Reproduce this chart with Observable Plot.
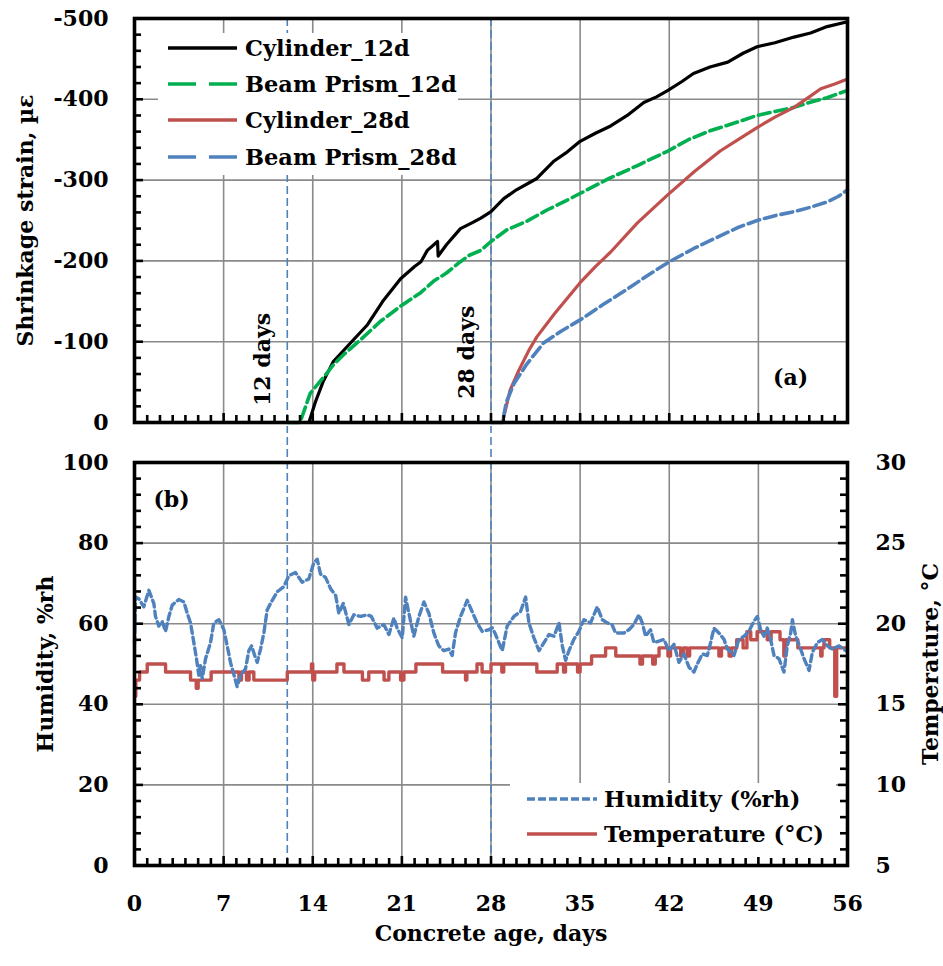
<!DOCTYPE html>
<html>
<head>
<meta charset="utf-8">
<script src="https://cdn.jsdelivr.net/npm/d3@7"></script>
<script src="https://cdn.jsdelivr.net/npm/@observablehq/plot@0.6"></script>
<style>
  html, body { margin: 0; padding: 0; background: #fff; }
  #wrap { position: relative; width: 943px; height: 966px; overflow: hidden; }
  #wrap > svg { position: absolute; left: 0; }
  .leg { position: absolute; }
</style>
</head>
<body>
<div id="wrap"></div>
<script>
// ---------------- DATA ----------------
// Panel (a): shrinkage strain (µε) vs concrete age (days)
const cyl12Days   = [12, 13.7, 14.2, 14.8, 15.6, 16.0, 17.0, 18.3, 19.5, 20.9, 22.0, 22.5, 23.0, 23.8, 23.85, 24.5, 25.6, 26.5, 27.2, 28.0, 29.0, 30.0, 31.6, 32.9, 34.0, 35.0, 36.2, 37.4, 38.7, 40.0, 41.0, 41.9, 43.0, 43.9, 45.2, 46.6, 47.8, 48.9, 50.3, 51.8, 53.1, 54.4, 56];
const cyl12Strain = [0, 0, -25, -50, -75, -82, -99, -121, -150, -178, -193, -199, -213, -224, -206, -220, -240, -247, -253, -261, -277, -288, -302, -323, -335, -348, -358, -367, -380, -396, -403, -411, -422, -432, -440, -446, -457, -465, -470, -477, -482, -490, -496];

const beam12Days   = [12, 13.0, 13.8, 14.9, 15.6, 16.5, 17.8, 19.3, 20.9, 22.5, 23.5, 24.5, 25.6, 26.3, 27.2, 28.0, 29.2, 30.8, 32.4, 34.2, 35.8, 37.4, 39.5, 41.9, 43.5, 45.2, 47.0, 48.9, 50.3, 51.8, 53.0, 54.4, 56];
const beam12Strain = [0, 0, -36, -57, -71, -85, -103, -125, -144, -161, -175, -185, -199, -207, -213, -224, -238, -249, -263, -277, -290, -303, -318, -336, -350, -361, -370, -380, -385, -390, -396, -402, -411];

const cyl28Days   = [28, 28.9, 29.2, 29.5, 30.2, 31.0, 31.6, 33.0, 35.0, 36.2, 37.4, 39.5, 41.9, 44.0, 46.0, 47.5, 48.9, 50.3, 51.8, 53.0, 53.9, 55.0, 56];
const cyl28Strain = [0, 0, -20, -40, -65, -90, -106, -135, -173, -193, -211, -247, -282, -311, -336, -351, -365, -378, -390, -403, -413, -419, -425];

const beam28Days   = [28, 28.9, 29.2, 29.8, 30.8, 32.1, 33.5, 35.0, 36.8, 38.7, 40.3, 41.9, 44.0, 46.0, 47.5, 48.9, 50.3, 51.8, 53.0, 54.4, 55.3, 56];
const beam28Strain = [0, 0, -25, -48, -72, -98, -113, -127, -146, -165, -182, -198, -216, -231, -242, -250, -256, -261, -266, -273, -280, -288];

const seriesNames = ["Cylinder_12d", "Beam Prism_12d", "Cylinder_28d", "Beam Prism_28d"];

// Panel (b): relative humidity (%rh)
const humDays = [0.0, 0.08, 0.34, 0.73, 1.13, 1.52, 1.65, 1.91, 2.17, 2.44, 2.7, 2.96, 3.48, 3.88, 4.14, 4.4, 4.66, 4.87, 5.05, 5.18, 5.32, 5.58, 5.97, 6.23, 6.63, 7.02, 7.28, 7.54, 8.06, 8.33, 8.72, 8.98, 9.2, 9.45, 9.64, 9.9, 10.16, 10.42, 10.68, 11.2, 11.73, 12.12, 12.64, 13.17, 13.69, 14.08, 14.35, 14.61, 15.0, 15.4, 15.8, 16.05, 16.4, 16.84, 17.23, 17.76, 18.28, 18.6, 19.06, 19.58, 19.98, 20.37, 20.63, 21.03, 21.29, 21.55, 21.94, 22.34, 22.73, 23.12, 23.51, 23.9, 24.3, 24.69, 24.95, 25.21, 25.61, 26.13, 26.52, 26.91, 27.31, 27.83, 28.1, 28.36, 28.88, 29.27, 29.8, 30.32, 30.72, 30.98, 31.37, 31.77, 32.16, 32.55, 32.95, 33.34, 33.6, 33.86, 34.12, 34.51, 34.9, 35.3, 35.82, 36.35, 36.74, 37.13, 37.5, 37.78, 38.44, 38.83, 39.22, 39.62, 39.88, 40.14, 40.53, 40.8, 41.19, 41.58, 41.97, 42.37, 42.76, 43.15, 43.55, 43.94, 44.2, 44.6, 44.99, 45.25, 45.51, 45.9, 46.3, 46.56, 46.9, 47.08, 47.47, 47.87, 48.26, 48.65, 48.92, 49.18, 49.44, 49.7, 49.96, 50.23, 50.62, 51.01, 51.27, 51.54, 51.67, 51.93, 52.32, 52.59, 52.98, 53.24, 53.63, 54.03, 54.42, 54.81, 55.34, 55.86, 56];
const humVals = [55, 66.6, 66.2, 64.2, 68.3, 65, 61.8, 59.4, 60.6, 58.1, 61.8, 64.6, 66, 65.4, 62.6, 60.2, 55.3, 51.3, 47.2, 49.6, 46.4, 51.3, 55.3, 60.2, 61, 58.5, 54.5, 50.4, 44.4, 47.2, 48.8, 53.3, 54.5, 52.0, 50.4, 53.7, 57.7, 63.4, 65, 67.9, 69.2, 71.9, 72.7, 70.3, 71.1, 75.1, 76, 72.3, 71.5, 68.7, 67, 62.6, 65, 59.8, 62.2, 61.8, 62.2, 61.8, 58.9, 59.8, 57.3, 61.4, 58.9, 56.5, 66.6, 62.6, 56.9, 61.8, 65.4, 62.6, 57.7, 54.5, 53.3, 53.7, 52.1, 57.7, 61.8, 65.8, 63, 60.2, 58.1, 58.5, 59, 57.3, 53.3, 59.4, 61.8, 63, 66.6, 60.2, 56.5, 53.3, 55.3, 57.3, 56.9, 60.2, 54.5, 50.9, 53.3, 56.1, 58.1, 61, 60.2, 64.2, 61, 60.2, 59.8, 57.7, 57.7, 58.5, 59.8, 62.2, 60.2, 56.9, 58.5, 55.3, 55.7, 56.1, 53.3, 54.9, 50.4, 52.5, 49.2, 48, 50, 52.5, 52.1, 55.3, 58.9, 57.7, 56.1, 53.7, 52.9, 52.1, 56.1, 56.9, 58.1, 60.6, 61.8, 58.5, 56.9, 58.9, 56.1, 52.1, 51.3, 48, 54.5, 57.7, 61, 56.9, 53.7, 51.3, 48.4, 52.9, 55.3, 56.1, 54.5, 53.7, 54.5, 53.3, 53.7];

// Panel (b): temperature (°C), logged as step changes
const tempDays = [0, 0.1, 0.4, 1.0, 2.44, 4.4, 4.85, 5.0, 6.02, 8.2, 8.4, 8.8, 9.0, 9.37, 12.0, 13.9, 14.0, 14.15, 15.9, 16.45, 17.9, 18.4, 19.6, 19.98, 20.9, 21.16, 22.1, 24.2, 26.0, 26.1, 26.9, 27.3, 28.0, 28.85, 29.0, 31.6, 33.2, 33.7, 33.85, 34.8, 35.0, 35.9, 37.0, 37.8, 39.7, 39.9, 40.7, 40.9, 41.2, 41.9, 42.1, 42.9, 43.1, 43.4, 43.6, 45.9, 46.1, 46.7, 46.9, 47.3, 47.8, 48.1, 48.4, 48.9, 49.7, 50.0, 50.7, 51.0, 51.15, 52.1, 53.9, 54.0, 54.15, 54.6, 55.0, 55.15, 56];
const tempVals = [15.5, 16.5, 17, 17.5, 17, 16.5, 16, 16.5, 17, 16.5, 17, 16.5, 17, 16.5, 17, 17.5, 16.5, 17, 17.5, 17, 16.5, 17, 16.5, 17, 16.5, 17, 17.5, 17, 16.5, 17, 17.5, 17, 17.5, 17, 17.5, 17, 17.5, 17, 17.5, 17, 17.5, 18, 18.5, 18, 17.5, 18, 17.5, 18, 18.5, 18, 18.5, 18, 18.5, 18, 18.5, 18, 18.5, 18, 18.5, 19, 18.5, 19.5, 19, 19.5, 19, 19.5, 19, 18, 19, 18.5, 18, 18.5, 19, 18.5, 15.5, 18.5, 18.5];

// Annotations
const markerDays = [12, 28];
const markerLabels = ["12 days", "28 days"];
const markerLabelStrain = [-78, -87];

// Ticks
const dayTicks = [0, 7, 14, 21, 28, 35, 42, 49, 56];
const strainTicks = [0, -100, -200, -300, -400, -500];
const humTicks = [0, 20, 40, 60, 80, 100];
const tempTicks = [5, 10, 15, 20, 25, 30];

// ---------------- STYLE ----------------
const FONT = "'DejaVu Serif', 'Liberation Serif', serif";
const FS = 22;
const LFS = 22.5;
const gridColor = "#8a8a8a";
const cBlack = "#000000", cGreen = "#00b050", cRed = "#c0504d", cBlue = "#4f81bd";

const W = 943;
const ML = 134, MR = 96;
const PW = W - ML - MR; // 713
const topH = 430, topMT = 18, topMB = 8;
const topPH = topH - topMT - topMB; // 404
const botH = 536, botMT = 32, botMB = 101;
const botPH = botH - botMT - botMB; // 403

const tickLen = 7, majLen = 9;

const zip = (xs, ys, kx, ky) => xs.map((x, i) => ({[kx]: x, [ky]: ys[i]}));
const cyl12 = zip(cyl12Days, cyl12Strain, "day", "strain");
const beam12 = zip(beam12Days, beam12Strain, "day", "strain");
const cyl28 = zip(cyl28Days, cyl28Strain, "day", "strain");
const beam28 = zip(beam28Days, beam28Strain, "day", "strain");
const hum = zip(humDays, humVals, "day", "rh");
const temp = zip(tempDays, tempVals, "day", "t");
const markers = markerDays.map((d, i) => ({day: d, label: markerLabels[i], strain: markerLabelStrain[i]}));

const innerDays = dayTicks.filter(d => d > 0 && d < 56);
const minorDays = d3.range(1, 56).filter(d => d % 7 !== 0);
const strainInner = strainTicks.filter(d => d !== 0 && d !== -500);
const strainMinor = d3.range(-20, -500, -20).filter(d => d % 100 !== 0);
const humInner = humTicks.filter(d => d !== 0 && d !== 100);
const humMinor = d3.range(4, 100, 4).filter(d => d % 20 !== 0);
const tempToHum = t => (t - 5) * 4;

const svgStyle = {
  fontFamily: FONT, fontSize: FS + "px", fontWeight: "bold", color: "#000",
  background: "transparent", overflow: "visible"
};
const txt = {fontSize: FS, fontWeight: "bold", fill: "#000"};

// ---------------- PANEL (a) ----------------
const topPlot = Plot.plot({
  width: W, height: topH,
  marginLeft: ML, marginRight: MR, marginTop: topMT, marginBottom: topMB,
  style: svgStyle,
  x: {domain: [0, 56], axis: null},
  y: {domain: [0, -500]},
  marks: [
    Plot.ruleX(innerDays, {x: d => d, stroke: gridColor, strokeWidth: 1.6}),
    Plot.ruleY(strainInner, {y: d => d, stroke: gridColor, strokeWidth: 1.6}),
    Plot.ruleX(markers, {x: "day", y1: -500, y2: 10, stroke: cBlue, strokeWidth: 1.6, strokeDasharray: "8,4"}),
    Plot.line(cyl12, {x: "day", y: "strain", stroke: cBlack, strokeWidth: 3.2}),
    Plot.line(beam12, {x: "day", y: "strain", stroke: cGreen, strokeWidth: 3.6, strokeDasharray: "12,5"}),
    Plot.line(cyl28, {x: "day", y: "strain", stroke: cRed, strokeWidth: 3.2}),
    Plot.line(beam28, {x: "day", y: "strain", stroke: cBlue, strokeWidth: 3.6, strokeDasharray: "12,5"}),
    Plot.text(markers, {x: "day", y: "strain", text: "label", rotate: -90, dx: -24, textAnchor: "middle", ...txt}),
    Plot.tickY(strainMinor, {y: d => d, insetRight: PW - tickLen, strokeWidth: 2.6, stroke: "#000"}),
    Plot.tickY(strainInner, {y: d => d, insetRight: PW - majLen, strokeWidth: 2.6, stroke: "#000"}),
    Plot.tickX(minorDays, {x: d => d, insetTop: topPH - tickLen, strokeWidth: 2.6, stroke: "#000"}),
    Plot.tickX(innerDays, {x: d => d, insetTop: topPH - majLen, strokeWidth: 2.6, stroke: "#000"}),
    Plot.frame({stroke: "#000", strokeWidth: 3.6}),
    Plot.axisY({ticks: strainTicks, tickSize: 0, tickPadding: 26, tickFormat: d => String(d), label: null, fontSize: FS, fontWeight: "bold"}),
    Plot.text(["Shrinkage strain, µε"], {frameAnchor: "left", rotate: -90, dx: -109, textAnchor: "middle", ...txt}),
    Plot.text(["(a)"], {frameAnchor: "bottom-right", dx: -57, dy: -38, textAnchor: "middle", ...txt})
  ]
});
topPlot.style.top = "0px";

// ---------------- PANEL (b) ----------------
const botPlot = Plot.plot({
  width: W, height: botH,
  marginLeft: ML, marginRight: MR, marginTop: botMT, marginBottom: botMB,
  style: svgStyle,
  x: {domain: [0, 56]},
  y: {domain: [0, 100]},
  marks: [
    Plot.ruleX(innerDays, {x: d => d, stroke: gridColor, strokeWidth: 1.6}),
    Plot.ruleY(humInner, {y: d => d, stroke: gridColor, strokeWidth: 1.6}),
    Plot.ruleX(markers, {x: "day", y1: 0, y2: 108, stroke: cBlue, strokeWidth: 1.6, strokeDasharray: "8,4"}),
    Plot.line(temp, {x: "day", y: d => tempToHum(d.t), curve: "step-after", stroke: cRed, strokeWidth: 3.4}),
    Plot.line(hum, {x: "day", y: "rh", stroke: cBlue, strokeWidth: 3.4, strokeDasharray: "7,4"}),
    Plot.tickY(humMinor, {y: d => d, insetRight: PW - tickLen, strokeWidth: 2.6, stroke: "#000"}),
    Plot.tickY(humInner, {y: d => d, insetRight: PW - majLen, strokeWidth: 2.6, stroke: "#000"}),
    Plot.tickY(humMinor, {y: d => d, insetLeft: PW - tickLen, strokeWidth: 2.6, stroke: "#000"}),
    Plot.tickY(humInner, {y: d => d, insetLeft: PW - majLen, strokeWidth: 2.6, stroke: "#000"}),
    Plot.tickX(minorDays, {x: d => d, insetTop: botPH - tickLen, strokeWidth: 2.6, stroke: "#000"}),
    Plot.tickX(innerDays, {x: d => d, insetTop: botPH - majLen, strokeWidth: 2.6, stroke: "#000"}),
    Plot.frame({stroke: "#000", strokeWidth: 3.6}),
    Plot.axisY({ticks: humTicks, tickSize: 0, tickPadding: 26, label: null, fontSize: FS, fontWeight: "bold"}),
    Plot.axisY({anchor: "right", ticks: tempTicks.map(tempToHum), tickFormat: d => String(d / 4 + 5), tickSize: 0, tickPadding: 28, label: null, fontSize: FS, fontWeight: "bold"}),
    Plot.axisX({ticks: dayTicks, tickSize: 0, tickPadding: 30, label: null, fontSize: FS, fontWeight: "bold"}),
    Plot.text(["Concrete age, days"], {frameAnchor: "bottom", dy: 75, textAnchor: "middle", ...txt}),
    Plot.text(["Humidity, %rh"], {frameAnchor: "left", rotate: -90, dx: -89, textAnchor: "middle", ...txt}),
    Plot.text(["Temperature, °C"], {frameAnchor: "right", rotate: -90, dx: 83, textAnchor: "middle", ...txt}),
    Plot.text(["(b)"], {frameAnchor: "top-left", dx: 37, dy: 29, textAnchor: "middle", ...txt})
  ]
});
botPlot.style.top = "430px";

const wrap = document.getElementById("wrap");
wrap.appendChild(topPlot);
wrap.appendChild(botPlot);

// ---------------- LEGENDS ----------------
const NS = "http://www.w3.org/2000/svg";
function makeLegend(left, top, w, h, entries, sx1, sx2, tx) {
  const svg = document.createElementNS(NS, "svg");
  svg.setAttribute("class", "leg");
  svg.setAttribute("width", w);
  svg.setAttribute("height", h);
  svg.style.left = left + "px";
  svg.style.top = top + "px";
  const r = document.createElementNS(NS, "rect");
  r.setAttribute("width", w); r.setAttribute("height", h); r.setAttribute("fill", "#fff");
  svg.appendChild(r);
  entries.forEach(e => {
    const l = document.createElementNS(NS, "line");
    l.setAttribute("x1", sx1); l.setAttribute("x2", sx2);
    l.setAttribute("y1", e.y); l.setAttribute("y2", e.y);
    l.setAttribute("stroke", e.color); l.setAttribute("stroke-width", e.width);
    if (e.dash) l.setAttribute("stroke-dasharray", e.dash);
    svg.appendChild(l);
    const t = document.createElementNS(NS, "text");
    t.setAttribute("x", tx); t.setAttribute("y", e.y);
    t.setAttribute("dy", "0.35em");
    t.setAttribute("font-family", FONT);
    t.setAttribute("font-size", LFS);
    t.setAttribute("font-weight", "bold");
    t.textContent = e.label;
    svg.appendChild(t);
  });
  wrap.appendChild(svg);
}
makeLegend(158, 33, 300, 142, [
  {y: 15, label: seriesNames[0], color: cBlack, width: 3.4},
  {y: 51, label: seriesNames[1], color: cGreen, width: 3.6, dash: "28,13"},
  {y: 87, label: seriesNames[2], color: cRed, width: 3.4},
  {y: 124, label: seriesNames[3], color: cBlue, width: 3.6, dash: "28,13"}
], 10, 79, 87);
makeLegend(510, 783, 326, 74, [
  {y: 16, label: "Humidity (%rh)", color: cBlue, width: 3.6, dash: "8,3"},
  {y: 51, label: "Temperature (°C)", color: cRed, width: 3.6}
], 17, 87, 94);
</script>
</body>
</html>
